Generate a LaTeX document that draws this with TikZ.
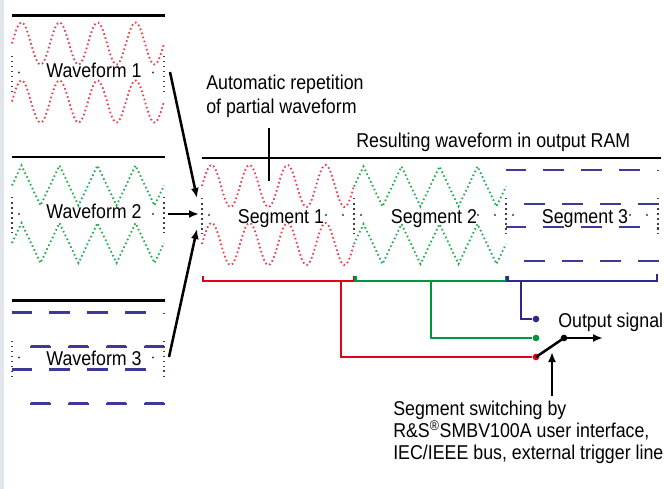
\documentclass[tikz,border=0pt]{standalone}
\usepackage{fontspec}
\setmainfont{Liberation Sans}[FakeStretch=0.89]
\usetikzlibrary{arrows.meta}

\definecolor{wavered}{RGB}{232,64,76}
\definecolor{wavegreen}{RGB}{40,172,80}
\definecolor{waveblue}{RGB}{62,56,152}
\definecolor{linered}{RGB}{228,0,20}
\definecolor{linegreen}{RGB}{0,150,62}
\definecolor{lineblue}{RGB}{46,40,142}
\definecolor{edgegray}{RGB}{226,230,236}

\tikzset{
  lbl/.style={font=\fontsize{15}{17}\selectfont, inner sep=0pt},
  redwave/.style={wavered, line width=1.4pt, dash pattern=on 1.2pt off 2pt},
  greenwave/.style={wavegreen, line width=1.4pt, dash pattern=on 1.2pt off 2pt},
  bluewave/.style={waveblue, line width=1.6pt, dash pattern=on 15.45pt off 24.3pt, dash phase=0.6pt},
  dotline/.style={black!75, line width=1.1pt, dash pattern=on 1.1pt off 2.7pt},
  rule/.style={black, line width=1.6pt},
  arr/.style={-{Latex[length=7.5pt,width=6pt]}, line width=1.9pt},
  bracket/.style={line width=1.9pt},
  contact/.style={circle, inner sep=0pt, minimum size=5pt},
}

% one box = 4 periods of 38px, top = y of its rule
\newcommand{\sinewave}[2]{%
  \foreach \m in {28,86}
    \draw[redwave] plot[variable=\t, domain=0:152, samples=121] ({#1+\t},{#2+\m-21*sin(\t/38*360)});
}
\newcommand{\triwave}[2]{%
  \foreach \m in {28.5,86}
    \draw[greenwave] (#1,#2+\m) \foreach \k in {1,...,4} {-- ++(9.5,-20) -- ++(19,40) -- ++(9.5,-20)};
}
\newcommand{\sqwave}[2]{%
  \foreach \m in {29,86}
    \draw[bluewave] (#1,#2+\m-17) \foreach \k in {1,...,4} {-- ++(19,0) -- ++(0,34) -- ++(19,0) -- ++(0,-34)};
}
\newcommand{\boxmarks}[2]{%
  \draw[dotline] (#1,#2+40) -- (#1,#2+76);
  \draw[dotline] (#1+152,#2+40) -- (#1+152,#2+76);
  \fill[black!75] (#1+7,#2+57) circle (0.8pt) (#1+141,#2+57) circle (0.8pt);
}

\begin{document}
\begin{tikzpicture}[x=0.75pt, y=-0.75pt]
\useasboundingbox (0,0) rectangle (664,489);
\fill[edgegray] (0,0) rectangle (4,489);

% source waveforms
\draw[rule] (12,15.5) -- (165,15.5);
\draw[rule] (12,157) -- (165,157);
\draw[rule] (12,300.5) -- (165,300.5);
\sinewave{12}{15.5}
\triwave{12}{157}
\sqwave{12}{300.5}
\boxmarks{12}{15.5}
\boxmarks{12}{157}
\boxmarks{12}{300.5}
\node[lbl, anchor=base] (wf1) at (94,77) {Waveform 1};
\node[lbl, anchor=base] (wf2) at (94,218) {Waveform 2};
\node[lbl, anchor=base] (wf3) at (94,365) {Waveform 3};

% output RAM
\draw[rule] (202,158) -- (661,158);
\sinewave{202}{158}
\triwave{354}{158}
\sqwave{506}{158}
\boxmarks{202}{158}
\boxmarks{354}{158}
\boxmarks{506}{158}
\foreach \x in {202,354,506}
  \fill[black!75] (\x+124,215) circle (0.8pt);
\node[lbl, anchor=base] (seg1) at (281,223) {Segment 1};
\node[lbl, anchor=base] (seg2) at (434,223) {Segment 2};
\node[lbl, anchor=base] (seg3) at (585,223) {Segment 3};
\node[lbl, anchor=base west] (ram) at (356,147) {Resulting waveform in output RAM};

\node[lbl, anchor=north west, align=left, font=\fontsize{15}{18}\selectfont] (rep) at (206,75)
  {Automatic repetition\\of partial waveform};
\coordinate (reptop) at (269,128);
\coordinate (repend) at (269,181);
\draw[rule] (reptop) -- (repend);

% copy arrows
\coordinate (out1) at (170,72);
\coordinate (out2) at (168,214);
\coordinate (out3) at (169,357);
\coordinate (in1) at (197,198);
\coordinate (in2) at (199,214);
\coordinate (in3) at (197,229);
\draw[arr] (out1) -- (in1);
\draw[arr] (out2) -- (in2);
\draw[arr] (out3) -- (in3);

% segment brackets
\draw[bracket, linered] (203,276) -- (203,281) -- (354,281) -- (354,276);
\draw[bracket, linegreen] (355.5,276) -- (355.5,281) -- (506,281) -- (506,276);
\draw[bracket, lineblue] (507.5,276) -- (507.5,281) -- (657,281) -- (657,274);

% switch
\node[contact, fill=linered] (cred) at (536,357) {};
\node[contact, fill=linegreen] (cgreen) at (536,338) {};
\node[contact, fill=lineblue] (cblue) at (536,319) {};
\node[contact, fill=black] (pivot) at (564,338) {};
\coordinate (tapred) at (341,281);
\coordinate (tapgreen) at (431,281);
\coordinate (tapblue) at (521,281);
\coordinate (outend) at (603,338);
\draw[bracket, linered] (tapred) |- (cred);
\draw[bracket, linegreen] (tapgreen) |- (cgreen);
\draw[bracket, lineblue] (tapblue) |- (cblue);
\draw[rule, line width=1.9pt] (cred.center) -- (pivot.center);
\draw[arr] (pivot.center) -- (outend);
\node[lbl, anchor=base west] (outsig) at (558,327) {Output signal};

\node[lbl, anchor=north west, align=left, font=\fontsize{15}{16.5}\selectfont] (switch) at (393,401)
  {Segment switching by\\R\&S\textsuperscript{®}SMBV100A user interface,\\IEC/IEEE bus, external trigger line};
\coordinate (swtip) at (552,352);
\draw[arr] ([yshift=4pt]switch.north west -| swtip) -- (swtip);
\end{tikzpicture}
\end{document}
